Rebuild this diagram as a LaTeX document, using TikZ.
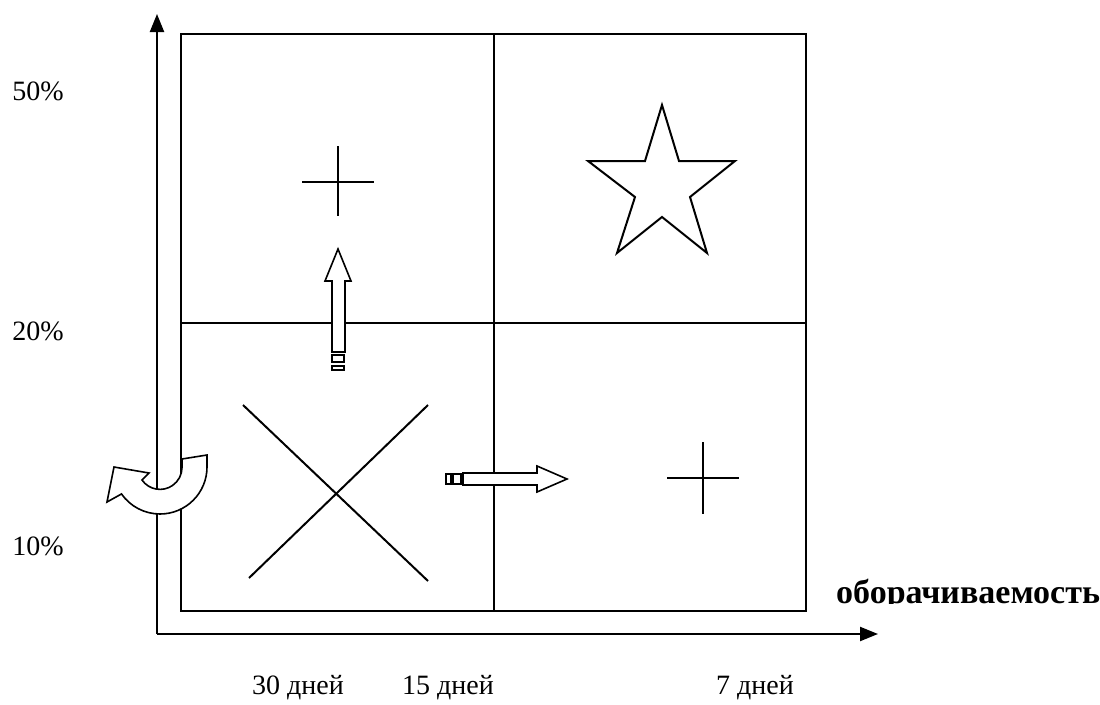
\documentclass[tikz,border=0pt]{standalone}
\usepackage{fontspec}
\setmainfont{Liberation Serif}
\usetikzlibrary{arrows.meta}
\begin{document}
\begin{tikzpicture}[x=1pt,y=-1pt,
  grid/.style={line width=2pt},
  axis/.style={line width=2.2pt,-{Triangle[length=18pt,width=14pt]}},
  figline/.style={line width=2pt},
  blockarrow/.style={line width=1.6pt,fill=white,line join=miter},
  lbl/.style={font=\fontsize{28}{32}\selectfont,anchor=base,inner sep=0pt}]
\useasboundingbox (0,0) rectangle (1100,704);
% axes
\coordinate (o) at (157,634);
\coordinate (ytop) at (157,14);
\coordinate (xend) at (878,634);
\draw[axis] (o) -- (ytop);
\draw[axis] (o) -- (xend);
% grid
\draw[grid] (181,34) rectangle (806,611);
\draw[grid] (494,34) -- (494,611);
\draw[grid] (181,323) -- (806,323);
% plus signs
\draw[figline] (302,182) -- (374,182) (338,146) -- (338,216);
\draw[figline] (667,478) -- (739,478) (703,442) -- (703,514);
% cross
\draw[figline] (243,405) -- (428,581);
\draw[figline] (428,405) -- (249,578);
% star
\draw[figline,line join=miter] (662,105) -- (679,161) -- (735,161) -- (690,197) -- (707,253)
  -- (662,217) -- (617,253) -- (635,197) -- (588,161) -- (645,161) -- cycle;
% up striped arrow
\draw[blockarrow] (338,249) -- (351,281) -- (345,281) -- (345,352) -- (332,352) -- (332,281) -- (325,281) -- cycle;
\draw[blockarrow] (332,355) rectangle (344,362);
\draw[blockarrow] (332,366) rectangle (344,370);
% right striped arrow
\draw[blockarrow] (463,473) -- (537,473) -- (537,466) -- (567,479) -- (537,492) -- (537,485) -- (463,485) -- cycle;
\draw[blockarrow] (446,474) rectangle (451,484);
\draw[blockarrow] (453,474) rectangle (461,484);
% U-turn arrow
\draw[blockarrow] (182,459) -- (207,455) -- (207,467) arc[start angle=0,end angle=-145,radius=47pt]
  -- (107,502) -- (114,467) -- (149,473) -- (142,480)
  arc[start angle=-145,end angle=0,radius=22pt] -- cycle;
% labels
\node[lbl] (p50) at (38,100) {50\%};
\node[lbl] (p20) at (38,340) {20\%};
\node[lbl] (p10) at (38,555) {10\%};
\node[lbl] (d30) at (298,694) {30 дней};
\node[lbl] (d15) at (448,694) {15 дней};
\node[lbl] (d7) at (755,694) {7 дней};
\begin{scope}
\clip (820,560) rectangle (1100,603);
\node[anchor=base west,inner sep=0pt,font=\fontsize{34}{38}\bfseries] (turn) at (836,603) {оборачиваемость};
\end{scope}
\end{tikzpicture}
\end{document}
